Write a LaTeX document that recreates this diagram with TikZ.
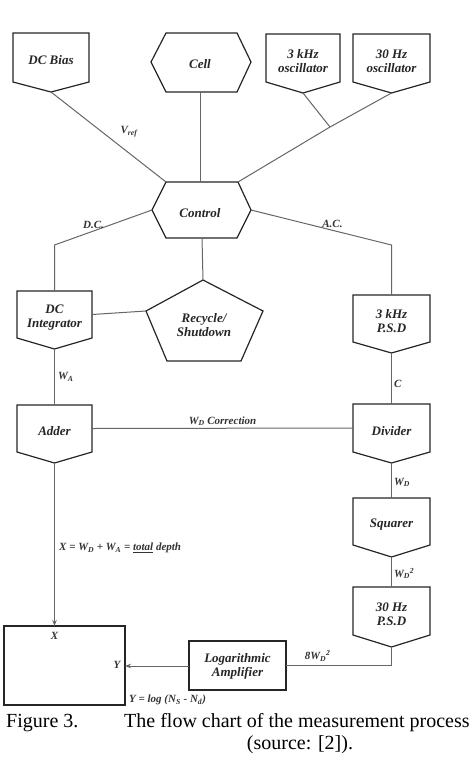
\documentclass[tikz,border=0pt]{standalone}
\usepackage{fontspec}
\setmainfont{Liberation Serif}
\usetikzlibrary{arrows.meta}
\tikzset{
  boxline/.style={draw=black!85, line width=1.2pt, line join=miter},
  conn/.style={draw=black!60, line width=1pt},
  lab/.style={font=\fontsize{13}{14}\selectfont\bfseries\itshape, align=center, inner sep=0pt, text=black!85},
  small/.style={font=\fontsize{11}{12}\selectfont\bfseries\itshape, inner sep=1pt, text=black!80},
  captext/.style={font=\fontsize{20}{22}\selectfont, inner sep=0pt},
  arr/.style={conn, -{Stealth[length=6pt,width=4.5pt]}}
}
% pentagon box pointing down: name, xl, xr, ytop, yside, ypoint, text
\newcommand\dnbox[7]{%
  \draw[boxline] (#2,#4) -- (#3,#4) -- (#3,#5) -- ({(#2+#3)/2},#6) -- (#2,#5) -- cycle;
  \coordinate (#1-t) at ({(#2+#3)/2},#4);
  \coordinate (#1-b) at ({(#2+#3)/2},#6);
  \coordinate (#1-l) at (#2,{(#4+#5)/2});
  \coordinate (#1-r) at (#3,{(#4+#5)/2});
  \node[lab] (#1) at ({(#2+#3)/2},{(#4+#5)/2+3}) {#7};
}
\begin{document}
\begin{tikzpicture}[x=1pt,y=-1pt]
\useasboundingbox (0,0) rectangle (474,764);
\fill[white] (0,0) rectangle (474,764);

% top row
\dnbox{bias}{13}{89}{33}{82}{92}{DC Bias}
\dnbox{oscA}{266}{340}{34}{82}{93}{3 kHz\\oscillator}
\dnbox{oscB}{353}{430}{34}{82}{93}{30 Hz\\oscillator}
% cell hexagon
\draw[boxline] (166,33) -- (237,33) -- (251,62) -- (237,92) -- (166,92) -- (151,62) -- cycle;
\coordinate (cell-b) at (200,92);
\node[lab] (cell) at (200,64) {Cell};
% control hexagon
\draw[boxline] (166,182) -- (238,182) -- (251,210) -- (237,238) -- (166,238) -- (152,210) -- cycle;
\coordinate (ctl-tl) at (166,182);
\coordinate (ctl-t) at (200,182);
\coordinate (ctl-tr) at (238,182);
\coordinate (ctl-l) at (152,210);
\coordinate (ctl-r) at (251,210);
\coordinate (ctl-b) at (202,238);
\node[lab] (ctl) at (200,213) {Control};

% middle boxes
\dnbox{dcint}{17}{92}{291}{338}{349}{DC\\Integrator}
\dnbox{psdA}{353}{430}{295}{342}{353}{3 kHz\\P.S.D}
% recycle pentagon
\draw[boxline] (203,280) -- (263,311) -- (241,361) -- (167,361) -- (146,311) -- cycle;
\coordinate (rec-t) at (203,280);
\coordinate (rec-l) at (146,311);
\node[lab] (rec) at (204,325) {Recycle/\\Shutdown};

\dnbox{adder}{17}{92}{405}{452}{463}{Adder}
\dnbox{div}{353}{430}{404}{452}{463}{Divider}
\dnbox{sq}{353}{430}{498}{545}{557}{Squarer}
\dnbox{psdB}{353}{430}{587}{635}{647}{30 Hz\\P.S.D}

% log amp and output box
\draw[boxline] (189,641) rectangle (286,690);
\node[lab] (log) at (237.5,666) {Logarithmic\\Amplifier};
\coordinate (log-l) at (189,666);
\coordinate (log-r) at (286,665);
\draw[boxline, line width=1.5pt] (4,626) rectangle (125,705);
\coordinate (out-t) at (54.5,626);
\coordinate (out-r) at (125,666);

% junctions / bends
\coordinate (J) at (330,127);
\coordinate (dcbend) at (54.5,245);
\coordinate (acbend) at (391.5,245);
\coordinate (psdbend) at (391.5,665);

% connectors
\draw[conn] (bias-b) -- (ctl-tl);
\node[small] (vref) at (129,132) {V\textsubscript{ref}};
\draw[conn] (cell-b) -- (ctl-t);
\draw[conn] (oscA-b) -- (J);
\draw[conn] (oscB-b) -- (J);
\draw[conn] (J) -- (ctl-tr);
\draw[conn] (ctl-l) -- node[small, pos=0.6, above=1pt] (dclab) {D.C.} (dcbend) -- (dcint-t);
\draw[conn] (ctl-r) -- node[small, pos=0.58, above=1pt] (aclab) {A.C.} (acbend) -- (psdA-t);
\draw[conn] (ctl-b) -- (rec-t);
\draw[conn] (dcint-r) -- (rec-l);
\draw[conn] (dcint-b) -- node[small, right=2pt] (wa) {W\textsubscript{A}} (adder-t);
\draw[conn] (adder-r) -- node[small, above=1pt] (corr) {W\textsubscript{D} Correction} (div-l);
\draw[conn] (psdA-b) -- node[small, right=1pt, pos=0.6] (clab) {C} (div-t);
\draw[conn] (div-b) -- node[small, right=1pt, pos=0.55] (wd) {W\textsubscript{D}} (sq-t);
\draw[conn] (sq-b) -- node[small, right=1pt, pos=0.55] (wd2) {W\textsubscript{D}\textsuperscript{2}} (psdB-t);
\draw[conn] (psdB-b) -- (psdbend) -- node[small, above=2pt, pos=0.7] (bw) {8W\textsubscript{D}\textsuperscript{2}} (log-r);
\draw[arr] (log-l) -- (out-r);
\draw[arr] (adder-b) -- (out-t);
\node[small, anchor=west] (xeq) at (58,548) {X = W\textsubscript{D} + W\textsubscript{A} = \underline{total} depth};

\node[small] (xin) at (54.5,636) {X};
\node[small] (yin) at (117,665) {Y};
\node[small, anchor=west] (yeq) at (128,700) {Y = log (N\textsubscript{S} - N\textsubscript{d})};

% caption
\node[captext, anchor=west] (fig) at (6,723) {Figure 3.};
\node[captext, anchor=west] (capA) at (124,723) {The flow chart of the measurement process};
\node[captext] (capB) at (300,745) {(source: [2]).};
\end{tikzpicture}
\end{document}
